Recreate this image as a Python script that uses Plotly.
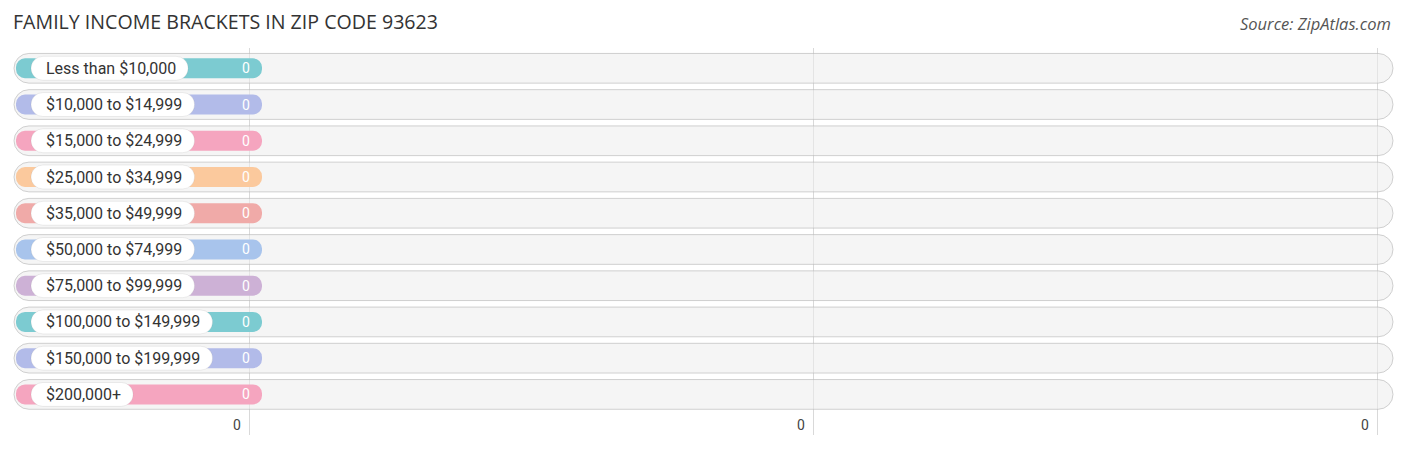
import plotly.graph_objects as go

# andmed
brackets = [
    "Less than $10,000", "$10,000 to $14,999", "$15,000 to $24,999",
    "$25,000 to $34,999", "$35,000 to $49,999", "$50,000 to $74,999",
    "$75,000 to $99,999", "$100,000 to $149,999", "$150,000 to $199,999",
    "$200,000+",
]
families = [0, 0, 0, 0, 0, 0, 0, 0, 0, 0]
tick_labels = ["0", "0", "0"]

colors = ["#7ccbd1", "#b2bbe9", "#f5a5bf", "#fbc99d", "#f0aaa8",
          "#a8c4ec", "#cdb1d6", "#7ccbd1", "#b2bbe9", "#f5a5bf"]

# lehe body-l on 8px veeris, x telg on ekraanipikslites
PAGE = 8
BASE = 16
STUB = 246
SCALE = 1.0
GRID = [249, 813, 1377]
TRACK_START, TRACK_END = 14, 1393
LABEL_X = 44


def text_width(s, size=16):
    w = 0
    for ch in s:
        if ch.isdigit() or ch in "$+o":
            w += 0.562
        elif ch == ",":
            w += 0.2
        elif ch == " ":
            w += 0.25
        elif ch == "t":
            w += 0.33
        elif ch in "LS":
            w += 0.53
        elif ch in "ehan":
            w += 0.54
        elif ch == "s":
            w += 0.52
        else:
            w += 0.5
    return w * size


rows = list(range(len(brackets)))
bar_len = [max(v * SCALE, STUB) for v in families]
pill_len = [text_width(b) + 27 for b in brackets]

fig = go.Figure()

# taustariba
fig.add_trace(go.Bar(
    y=rows, x=[TRACK_END - TRACK_START] * len(rows), base=TRACK_START,
    orientation="h", width=0.82,
    marker=dict(color="rgba(236,236,236,0.55)", cornerradius=15,
                line=dict(color="rgba(185,185,185,0.65)", width=1)),
    hoverinfo="skip", showlegend=False,
))
# värviline riba
fig.add_trace(go.Bar(
    y=rows, x=bar_len, base=BASE, orientation="h", width=0.55,
    marker=dict(color=colors, cornerradius=10, line=dict(width=0)),
    hovertext=brackets, showlegend=False,
))
# valge sildiriba
fig.add_trace(go.Bar(
    y=rows, x=pill_len, base=31, orientation="h", width=0.66,
    marker=dict(color="white", cornerradius=12,
                line=dict(color="rgba(0,0,0,0.07)", width=1)),
    hoverinfo="skip", showlegend=False,
))

# sildid
for r, b in zip(rows, brackets):
    fig.add_annotation(x=LABEL_X, y=r, text=b, showarrow=False,
                       xanchor="left", yanchor="middle",
                       font=dict(family="Roboto", size=16, color="#333333"))

# väärtused
for r, v, L in zip(rows, families, bar_len):
    fig.add_annotation(x=BASE + L - 16, y=r, text=str(v), showarrow=False,
                       xanchor="center", yanchor="middle",
                       font=dict(family="Roboto", size=14, color="white"))

# telje sildid
for gx, t in zip(GRID, tick_labels):
    fig.add_annotation(x=gx - 6, y=9.84, text=t, showarrow=False,
                       xanchor="right", yanchor="middle",
                       font=dict(family="Roboto", size=14, color="#444444"))

fig.add_annotation(text="<i>Source: ZipAtlas.com</i>", xref="paper", yref="paper",
                   x=(1393 - PAGE) / 1406, y=(427 - 16) / 387,
                   xanchor="right", yanchor="middle", showarrow=False,
                   font=dict(family="Open Sans", size=16.5, color="#555555"))

fig.update_layout(
    width=1406, height=450,
    margin=dict(l=0, r=0, t=48 - PAGE, b=15 + PAGE),
    paper_bgcolor="white", plot_bgcolor="white",
    barmode="overlay",
    title=dict(text="FAMILY INCOME BRACKETS IN ZIP CODE 93623",
               x=(13 - PAGE) / 1406, xanchor="left",
               y=1 - (22 - PAGE) / 450, yanchor="middle",
               font=dict(family="Open Sans", size=19.6, color="#333333")),
    xaxis=dict(range=[PAGE, 1406 + PAGE], tickvals=GRID, showticklabels=False,
               showgrid=True, gridcolor="#d9d9d9", gridwidth=1,
               zeroline=False, fixedrange=True),
    yaxis=dict(range=[10.12, -0.56], showticklabels=False, showgrid=False,
               zeroline=False, fixedrange=True),
)

fig.write_html("out.html")
